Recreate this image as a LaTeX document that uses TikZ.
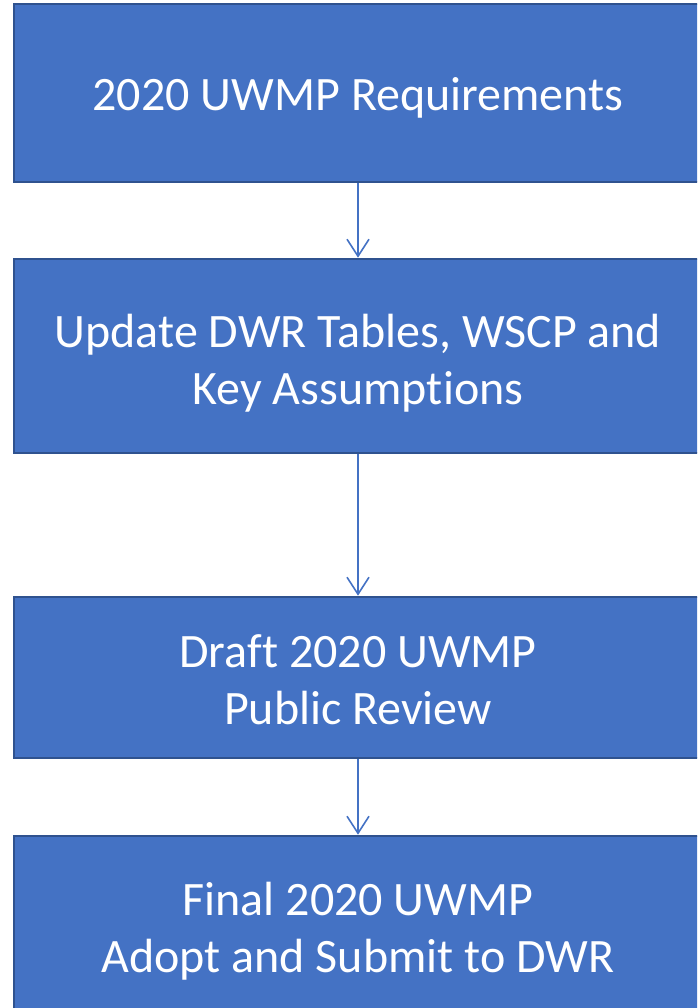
\documentclass[tikz,border=0pt]{standalone}
\usepackage{fontspec}
\setmainfont{Carlito}[Ligatures=NoCommon]
\usetikzlibrary{arrows.meta}
\definecolor{boxfill}{HTML}{4472C4}
\definecolor{boxline}{HTML}{2F528F}
\begin{document}
\begin{tikzpicture}[x=1pt,y=-1pt,
  stepbox/.style={draw=boxline, line width=2.6pt, fill=boxfill,
    minimum width=688pt, inner sep=0pt},
  steptext/.style={text=white, inner sep=0pt, align=center,
    font=\fontsize{48}{57}\selectfont},
  conn/.style={draw=boxfill, line width=1.6pt, -{Straight Barb[length=17pt,width=22pt]}}]
\useasboundingbox (0,0) rectangle (697,1008);
\clip (0,0) rectangle (697,1008);
\node[stepbox, minimum height=178pt] (b1) at (358,93) {};
\node[stepbox, minimum height=194pt] (b2) at (358,356) {};
\node[stepbox, minimum height=161pt] (b3) at (358,677.5) {};
\node[stepbox, minimum height=180pt] (b4) at (358,926) {};
\node[steptext] (t1) at ([yshift=-5pt]b1.center) {2020 UWMP Requirements};
\node[steptext] (t2) at ([yshift=-7pt]b2.center) {Update DWR Tables, WSCP and\\Key Assumptions};
\node[steptext] (t3) at ([yshift=-2pt]b3.center) {Draft 2020 UWMP\\Public Review};
\node[steptext] (t4) at ([yshift=-5pt]b4.center) {Final 2020 UWMP\\Adopt and Submit to DWR};
\draw[conn] (b1.south) -- (b2.north);
\draw[conn] (b2.south) -- (b3.north);
\draw[conn] (b3.south) -- (b4.north);
\end{tikzpicture}
\end{document}
